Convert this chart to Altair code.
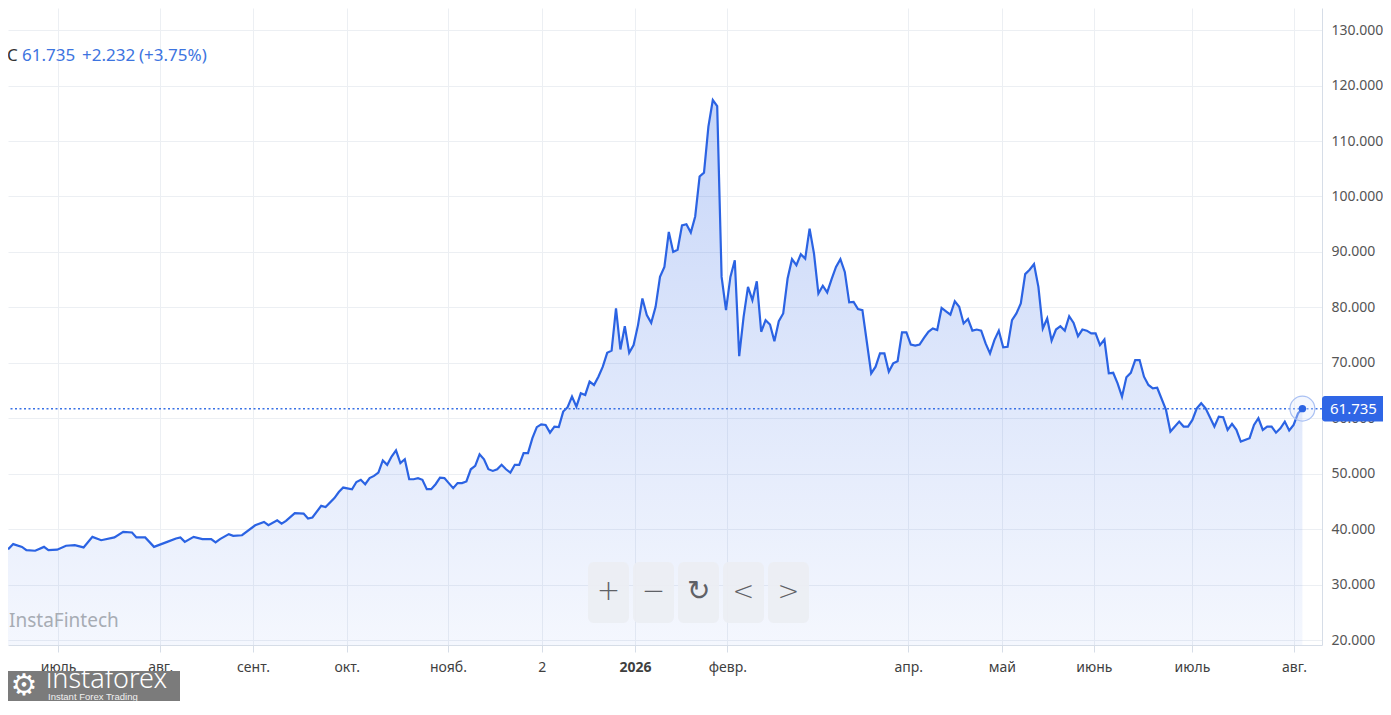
import altair as alt
import pandas as pd

FONT = "Noto Sans"
BLUE = "#2b63e3"

# trading-session index and closing price
SESSION = [0, 2, 3, 5, 6, 8, 10, 11, 13, 15, 17, 19, 21, 23, 26, 28, 30, 31, 33, 35,
           38, 40, 41, 42, 44, 46, 48, 49, 50, 52, 53, 55, 58, 60, 61, 63, 64, 65, 67, 69,
           70, 71, 73, 74, 76, 77, 78, 80, 81, 82, 83, 84, 85, 86, 87, 88, 89, 90, 91, 92,
           93, 94, 95, 96, 97, 98, 99, 100, 101, 102, 103, 104, 105, 106, 107, 108, 109, 110, 111, 112,
           113, 114, 115, 116, 117, 118, 119, 120, 121, 122, 123, 124, 125, 126, 127, 128, 129, 130, 131, 132,
           133, 134, 135, 136, 137, 138, 139, 140, 141, 142, 143, 144, 145, 146, 147, 148, 149, 150, 151, 152,
           153, 154, 155, 156, 157, 158, 159, 160, 161, 162, 163, 164, 165, 166, 167, 168, 169, 170, 171, 172,
           173, 174, 175, 176, 177, 178, 179, 180, 181, 182, 183, 184, 185, 186, 187, 188, 189, 190, 191, 192,
           193, 194, 195, 196, 197, 198, 199, 200, 201, 202, 203, 204, 205, 206, 207, 208, 209, 210, 211, 212,
           213, 214, 215, 216, 217, 218, 219, 220, 221, 222, 223, 224, 225, 226, 227, 228, 229, 230, 231, 232,
           233, 234, 235, 236, 237, 238, 239, 240, 241, 242, 243, 244, 245, 246, 247, 248, 249, 250, 251, 252,
           253, 254, 255, 256, 257, 258, 259, 260, 261, 262, 263, 265, 266, 268, 269, 270, 271, 272, 273, 274,
           276, 277, 278, 279, 280, 281, 282, 284, 285, 286, 287, 288, 289, 290, 291, 292, 293, 294, 295, 296]

PRICE = [36.5, 36.5, 37.3, 36.8, 36.2, 36.1, 36.8, 36.2, 36.3, 37.0, 37.1, 36.7, 38.6, 38.0, 38.5, 39.5, 39.4, 38.5, 38.5, 36.8,
         37.7, 38.3, 38.5, 37.7, 38.6, 38.2, 38.2, 37.6, 38.2, 39.1, 38.8, 38.9, 40.7, 41.3, 40.7, 41.6, 41.0, 41.5, 42.9, 42.8,
         41.9, 42.1, 44.2, 44.0, 45.6, 46.7, 47.5, 47.2, 48.5, 48.9, 48.1, 49.2, 49.6, 50.2, 52.4, 51.6, 53.1, 54.2, 51.9, 52.6,
         49.0, 49.0, 49.2, 48.9, 47.2, 47.2, 48.1, 49.3, 49.2, 48.3, 47.4, 48.3, 48.3, 48.6, 50.8, 51.4, 53.5, 52.6, 50.8, 50.5,
         50.8, 51.6, 50.8, 50.2, 51.6, 51.6, 53.7, 53.7, 56.4, 58.4, 58.9, 58.8, 57.4, 58.5, 58.4, 61.2, 62.0, 63.9, 62.1, 64.5,
         64.2, 66.6, 66.0, 67.5, 69.3, 71.8, 72.2, 79.8, 72.4, 76.6, 71.8, 73.2, 76.8, 81.6, 78.6, 77.2, 80.1, 85.5, 87.3, 93.6,
         90.0, 90.4, 94.8, 95.0, 93.5, 96.4, 103.6, 104.3, 112.6, 117.4, 116.3, 85.5, 79.5, 85.5, 88.5, 71.2, 78.3, 83.7, 81.3, 84.7,
         75.6, 77.7, 76.9, 73.9, 77.5, 78.9, 85.2, 88.7, 87.6, 89.6, 88.8, 94.2, 89.7, 82.5, 83.9, 82.7, 85.1, 87.3, 88.7, 86.4,
         80.9, 81.0, 79.7, 79.5, 73.8, 68.1, 69.3, 71.7, 71.7, 68.4, 69.9, 70.3, 75.5, 75.5, 73.3, 73.1, 73.3, 74.5, 75.6, 76.2,
         75.9, 79.9, 79.3, 78.7, 81.1, 80.1, 77.1, 77.9, 75.8, 76.0, 75.8, 73.5, 71.7, 74.1, 75.8, 72.8, 72.9, 77.7, 78.9, 80.7,
         86.0, 86.8, 87.8, 83.7, 76.2, 78.0, 74.0, 76.0, 76.6, 75.8, 78.4, 77.2, 74.8, 76.0, 75.8, 75.3, 75.3, 73.2, 74.2, 68.1,
         68.2, 66.3, 63.9, 67.4, 68.2, 70.5, 70.5, 67.5, 66.0, 65.4, 65.5, 61.5, 57.6, 59.4, 58.5, 58.5, 59.7, 61.8, 62.7, 61.8,
         58.5, 60.3, 60.2, 57.9, 59.0, 57.9, 55.8, 56.4, 58.8, 60.0, 57.9, 58.5, 58.5, 57.4, 58.2, 59.4, 57.8, 58.8, 60.9, 61.735]

TICK_SESSIONS = [13.2, 36.4, 57.5, 78.8, 101.8, 123.1, 144.3, 165.3, 206.4, 227.7, 248.6, 270.9, 294.1]
TICK_LABELS = ["июль", "авг.", "сент.", "окт.", "нояб.", "2", "2026", "февр.", "апр.", "май", "июнь", "июль", "авг."]
Y_TICKS = [20, 30, 40, 50, 60, 70, 80, 90, 100, 110, 120, 130]

HEADER = ["C", "61.735", "+2.232", "(+3.75%)"]
BUTTONS = ["+", "\u2212", "\u21bb", "<", ">"]
WATERMARK = "InstaFintech"
LOGO = ["instaforex", "Instant Forex Trading"]

PLOT_W = 1314
X_DOMAIN = [1.818, 1.818 + PLOT_W / 4.4]
Y_DOMAIN = [19.1, 134.0]

df = pd.DataFrame({"s": SESSION, "v": PRICE})
last = df.iloc[[-1]].reset_index(drop=True)
one = pd.DataFrame({"k": [0]})

label_expr = "{}[indexof({}, datum.value)]".format(TICK_LABELS, TICK_SESSIONS)

xenc = alt.X(
    "s:Q",
    title=None,
    scale=alt.Scale(domain=X_DOMAIN, nice=False, zero=False),
    axis=alt.Axis(
        values=TICK_SESSIONS,
        labelExpr=label_expr,
        grid=True,
        ticks=True,
        tickSize=7,
        labelFontSize=14,
        labelPadding=8,
        labelOverlap=False,
        labelFlush=False,
        labelColor="#3f3f3f",
        labelFontWeight={"condition": {"test": "datum.value == 144.3", "value": "bold"}, "value": "normal"},
    ),
)
yenc = alt.Y(
    "v:Q",
    title=None,
    scale=alt.Scale(domain=Y_DOMAIN, nice=False, zero=False),
    axis=alt.Axis(
        orient="right",
        values=Y_TICKS,
        format=".3f",
        grid=True,
        ticks=False,
        labelFontSize=14,
        labelPadding=9,
        labelColor="#555555",
    ),
)

area = alt.Chart(df).mark_area(
    clip=True,
    color=alt.Gradient(
        gradient="linear",
        stops=[
            alt.GradientStop(color="rgba(47,102,230,0.27)", offset=0),
            alt.GradientStop(color="rgba(47,102,230,0.05)", offset=1),
        ],
        x1=1, x2=1, y1=0, y2=1,
    ),
).encode(x=xenc, y=yenc, y2=alt.datum(Y_DOMAIN[0]))

line = alt.Chart(df).mark_line(clip=True, color=BLUE, strokeWidth=2.2).encode(x=xenc, y=yenc)

rule = alt.Chart(last).mark_rule(color="#3a72e6", strokeWidth=1.5, strokeDash=[2, 2.5]).encode(y="v:Q")

halo = alt.Chart(last).mark_circle(
    size=620, color="#dfe8fb", fillOpacity=0.35, stroke="#a9c0f3", strokeWidth=1.2, strokeOpacity=1
).encode(x="s:Q", y="v:Q")
dot = alt.Chart(last).mark_circle(size=55, color=BLUE, opacity=1).encode(x="s:Q", y="v:Q")

box = alt.Chart(last).transform_calculate(
    hi="datum.v + 2.3", lo="datum.v - 2.3"
).mark_rect(color="#2f66e6", cornerRadius=3).encode(
    x=alt.value(PLOT_W), x2=alt.value(PLOT_W + 70), y="hi:Q", y2="lo:Q"
)
price_txt = alt.Chart(last).mark_text(
    align="left", baseline="middle", color="white", fontSize=15, font=FONT
).encode(x=alt.value(PLOT_W + 8), y="v:Q", text=alt.Text("v:Q", format=".3f"))

header_x = [-1, 14, 74, 131]
header_colors = ["#333333", "#3d74e0", "#3d74e0", "#3d74e0"]
headers = [
    alt.Chart(one).mark_text(
        text=t, align="left", baseline="middle", fontSize=17, font=FONT, color=c
    ).encode(x=alt.value(hx), y=alt.value(48))
    for t, hx, c in zip(HEADER, header_x, header_colors)
]

watermark = alt.Chart(one).mark_text(
    text=WATERMARK, align="left", baseline="middle", fontSize=19, font=FONT, color="#a7acb4"
).encode(x=alt.value(1), y=alt.value(613))

buttons = []
for i, sym in enumerate(BUTTONS):
    x0 = 580 + i * 45
    buttons.append(
        alt.Chart(one).mark_rect(color="#eceef3", opacity=0.92, cornerRadius=6).encode(
            x=alt.value(x0), x2=alt.value(x0 + 41), y=alt.value(554), y2=alt.value(615)
        )
    )
    buttons.append(
        alt.Chart(one).mark_text(
            text=sym, align="center", baseline="middle",
            fontSize=28 if sym not in ("<", ">") else 26,
            font="DejaVu Sans", fontWeight=200, color="#5f6166",
        ).encode(x=alt.value(x0 + 20.5), y=alt.value(584))
    )

logo_box = alt.Chart(one).mark_rect(color="#7b7b7b").encode(
    x=alt.value(0), x2=alt.value(172), y=alt.value(663), y2=alt.value(700)
)
logo_gear = alt.Chart(one).mark_text(
    text="\u2699", align="center", baseline="middle", fontSize=30, font="DejaVu Sans", color="white"
).encode(x=alt.value(16), y=alt.value(678))
logo_main = alt.Chart(one).mark_text(
    text=LOGO[0], align="left", baseline="alphabetic", fontSize=27, font=FONT, fontWeight=300, color="white"
).encode(x=alt.value(38), y=alt.value(680))
logo_sub = alt.Chart(one).mark_text(
    text=LOGO[1], align="left", baseline="alphabetic", fontSize=9.5, font="Liberation Sans", color="#f0f0f0"
).encode(x=alt.value(40), y=alt.value(692))

chart = alt.layer(
    area, line, rule, halo, dot, box, price_txt, *headers, watermark, *buttons,
    logo_box, logo_gear, logo_main, logo_sub,
).properties(
    width=PLOT_W,
    height=637,
    autosize=alt.AutoSizeParams(type="none"),
    padding={"left": 0, "top": 0, "right": 1375 - PLOT_W, "bottom": 56},
    background="white",
).configure_view(stroke=None).configure_axis(
    gridColor="#eceff3",
    domainColor="#d6dde7",
    tickColor="#d6dde7",
    labelFont=FONT,
)

chart.save("out.html", embed_options={"renderer": "svg", "actions": False})
